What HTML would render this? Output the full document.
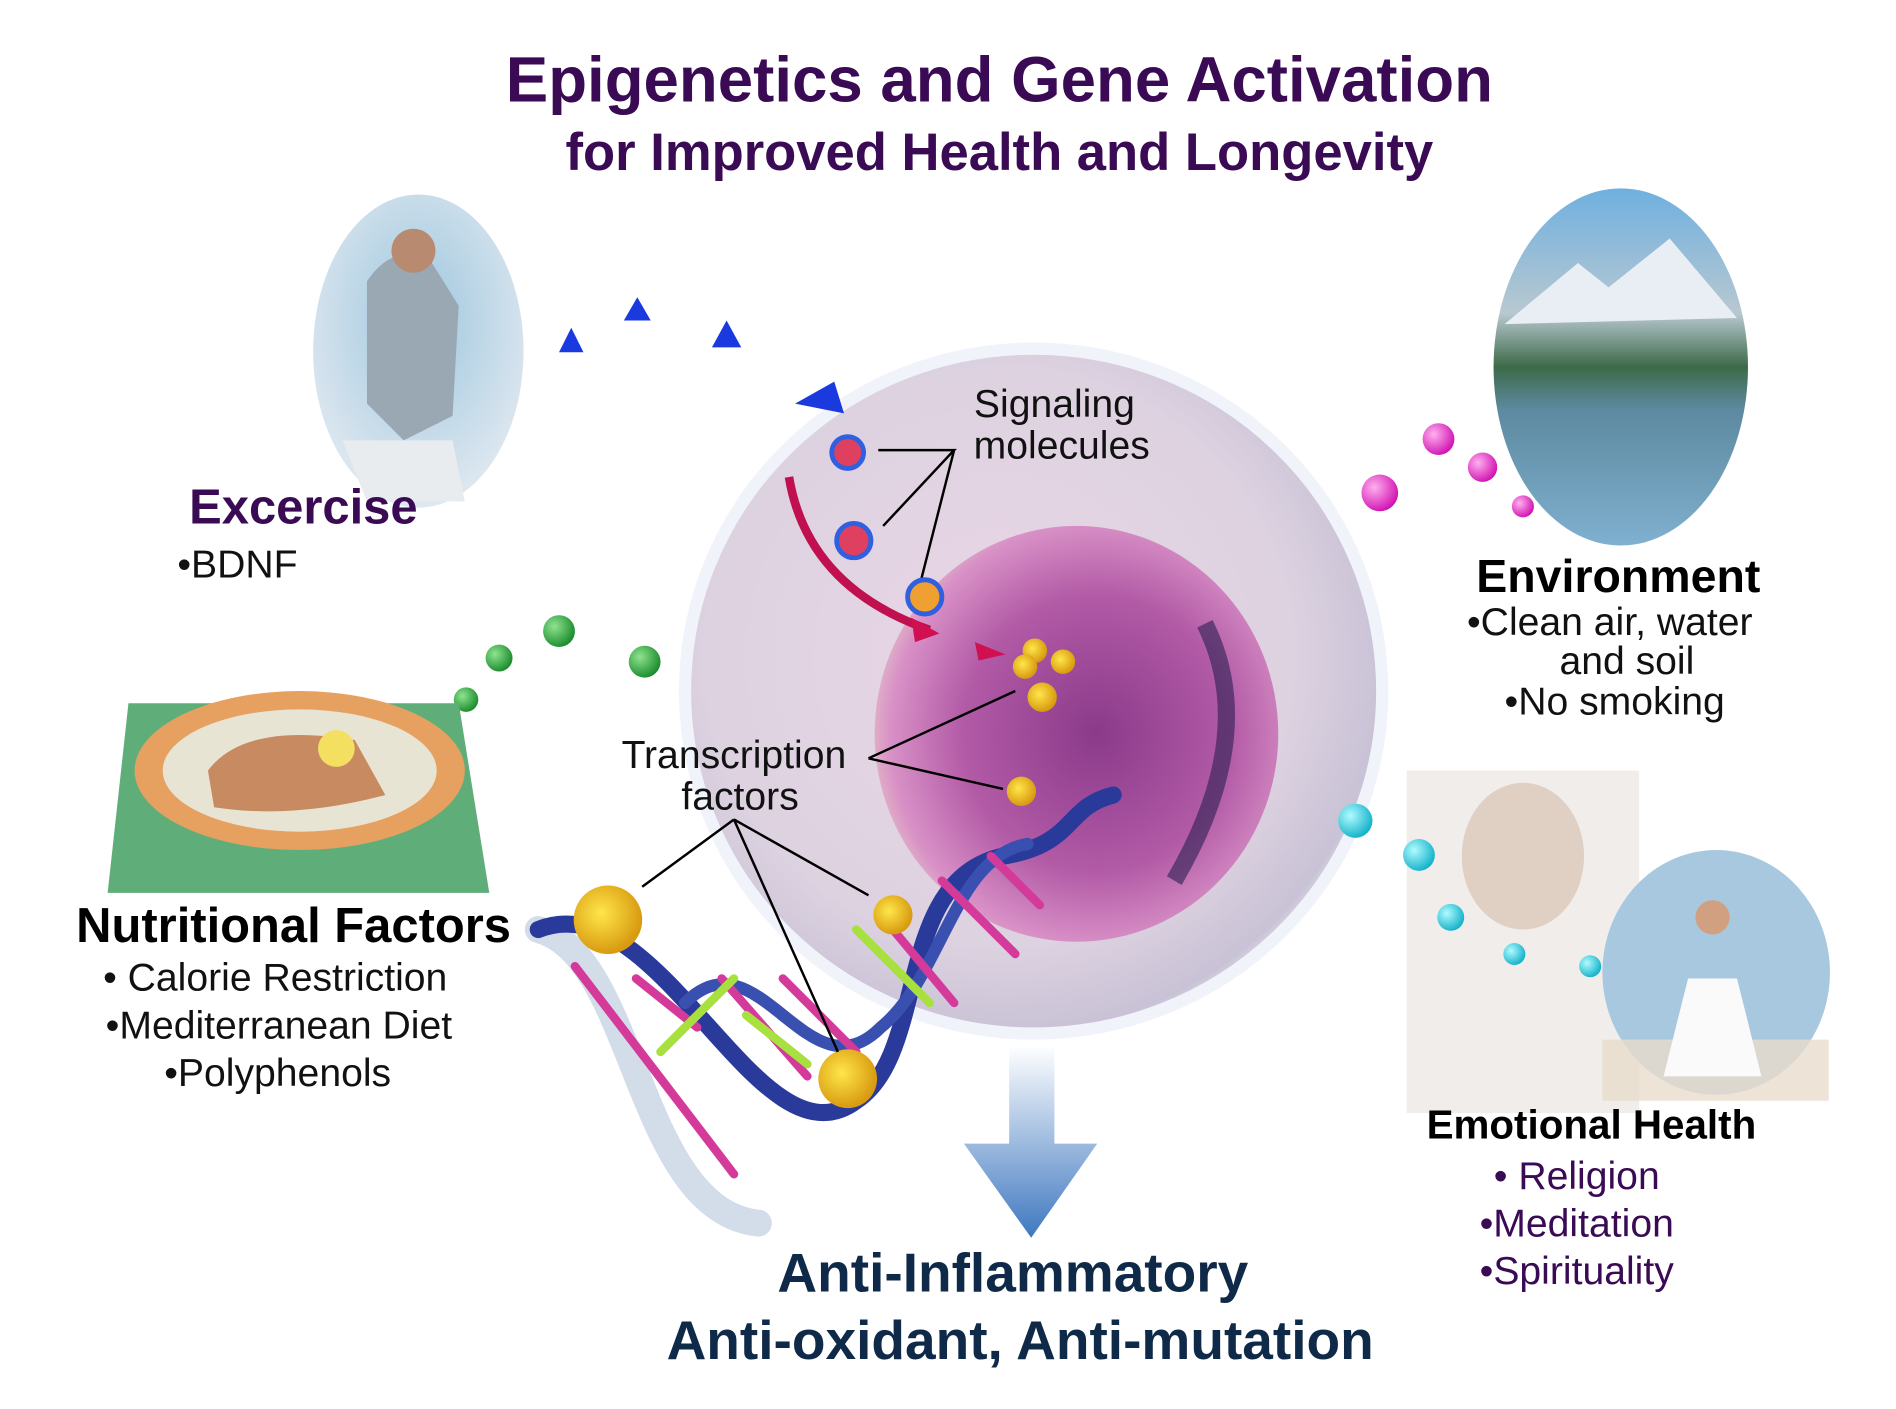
<!DOCTYPE html>
<html><head><meta charset="utf-8"><style>
html,body{margin:0;padding:0;background:#fff;}
svg{display:block;}
text{font-family:"Liberation Sans",sans-serif;}
</style></head><body>
<svg width="1896" height="1409" viewBox="0 0 1550 1152" preserveAspectRatio="none" xmlns="http://www.w3.org/2000/svg">
<defs>
<radialGradient id="cellG" cx="0.45" cy="0.45" r="0.6"><stop offset="0" stop-color="#e9d6e6"/><stop offset="0.7" stop-color="#ddd2e0"/><stop offset="0.92" stop-color="#c9c2d6"/><stop offset="1" stop-color="#eef2f8"/></radialGradient>
<radialGradient id="nucG" cx="0.55" cy="0.5" r="0.6"><stop offset="0" stop-color="#8a3a8a"/><stop offset="0.55" stop-color="#b25aa6"/><stop offset="0.85" stop-color="#d890c6"/><stop offset="1" stop-color="#e8d0c8"/></radialGradient>
<radialGradient id="skyG" cx="0.5" cy="0.4" r="0.6"><stop offset="0" stop-color="#9cc6de"/><stop offset="1" stop-color="#dfe8f0"/></radialGradient>
<radialGradient id="yel" cx="0.4" cy="0.4" r="0.6"><stop offset="0" stop-color="#ffe64a"/><stop offset="1" stop-color="#d89a10"/></radialGradient>
<radialGradient id="grn" cx="0.35" cy="0.35" r="0.7"><stop offset="0" stop-color="#8fe38f"/><stop offset="1" stop-color="#178a2a"/></radialGradient>
<radialGradient id="pnk" cx="0.35" cy="0.35" r="0.7"><stop offset="0" stop-color="#ffb0f0"/><stop offset="1" stop-color="#d010b0"/></radialGradient>
<radialGradient id="cyn" cx="0.35" cy="0.35" r="0.7"><stop offset="0" stop-color="#b0fbff"/><stop offset="1" stop-color="#10b0c8"/></radialGradient>
<linearGradient id="arrG" x1="0" y1="0" x2="0" y2="1"><stop offset="0" stop-color="#ffffff"/><stop offset="1" stop-color="#3f78c0"/></linearGradient>
<linearGradient id="mtn" x1="0" y1="0" x2="0" y2="1"><stop offset="0" stop-color="#6fb0e0"/><stop offset="0.35" stop-color="#b8c8d0"/><stop offset="0.5" stop-color="#3d6a48"/><stop offset="0.62" stop-color="#5d8aa0"/><stop offset="1" stop-color="#80b0d0"/></linearGradient>
</defs>

<text x="817" y="83" text-anchor="middle" font-size="52" font-weight="bold" fill="#3a0a55">Epigenetics and Gene Activation</text>
<text x="817" y="139" text-anchor="middle" font-size="43" font-weight="bold" fill="#3a0a55">for Improved Health and Longevity</text>

<g>
<ellipse cx="845" cy="565" rx="285" ry="280" fill="url(#cellG)" stroke="#f0f4fa" stroke-width="10"/>
<ellipse cx="880" cy="600" rx="165" ry="170" fill="url(#nucG)"/>
<path d="M985 510 Q1030 600 960 720" stroke="#2a2050" stroke-width="14" fill="none" opacity="0.6"/>
</g>

<g fill="none" stroke-linecap="round">
<path d="M440 760 C520 780 520 990 620 1000" stroke="#c8d4e4" stroke-width="22" opacity="0.8"/>
<path d="M440 760 C540 720 620 960 700 900 C760 860 730 720 820 700 C880 690 870 660 910 650" stroke="#2a3a9a" stroke-width="14"/>
<path d="M560 820 C620 760 660 900 720 840 C770 800 780 700 840 690" stroke="#3a50b0" stroke-width="10"/>
<path d="M470 790 L600 960 M520 800 L570 840 M590 800 L660 880 M640 800 L700 860 M730 760 L780 820 M770 720 L830 780 M810 700 L850 740" stroke="#d43a9a" stroke-width="7"/>
<path d="M540 860 L600 800 M610 830 L660 870 M700 760 L760 820" stroke="#a8e040" stroke-width="7"/>
</g>

<g>
<circle cx="497" cy="752" r="28" fill="url(#yel)"/>
<circle cx="730" cy="748" r="16" fill="url(#yel)"/>
<circle cx="693" cy="882" r="24" fill="url(#yel)"/>
<circle cx="846" cy="532" r="10" fill="url(#yel)"/>
<circle cx="838" cy="545" r="10" fill="url(#yel)"/>
<circle cx="869" cy="541" r="10" fill="url(#yel)"/>
<circle cx="852" cy="570" r="12" fill="url(#yel)"/>
<circle cx="835" cy="647" r="12" fill="url(#yel)"/>
</g>
<g stroke="#000" stroke-width="2" fill="none">
<path d="M710 620 L830 565 M710 620 L820 645"/>
<path d="M600 670 L525 725 M600 670 L710 732 M600 670 L685 860"/>
<path d="M718 368 L780 368 L722 430 M780 368 L752 478"/>
</g>
<text x="600" y="628" text-anchor="middle" font-size="32" fill="#111">Transcription</text>
<text x="605" y="662" text-anchor="middle" font-size="32" fill="#111">factors</text>
<text x="862" y="341" text-anchor="middle" font-size="32" fill="#111">Signaling</text>
<text x="868" y="375" text-anchor="middle" font-size="32" fill="#111">molecules</text>

<g>
<circle cx="693" cy="370" r="13" fill="#e04060" stroke="#3060e0" stroke-width="4"/>
<circle cx="698" cy="442" r="14" fill="#e04060" stroke="#3060e0" stroke-width="4"/>
<circle cx="756" cy="488" r="14" fill="#f0a030" stroke="#3060e0" stroke-width="4"/>
<path d="M645 390 Q660 480 760 515" stroke="#c01050" stroke-width="7" fill="none"/>
<polygon points="745,505 768,518 748,525" fill="#d01050"/>
<polygon points="797,525 822,535 800,540" fill="#d01050"/>
<polygon points="650,330 682,312 690,338" fill="#1a3ae0"/>
</g>

<g fill="#1a3ae0">
<polygon points="467,268 477,288 457,288"/><polygon points="521,243 532,262 510,262"/><polygon points="594,262 606,284 582,284"/>
</g>
<g>
<circle cx="381" cy="572" r="10" fill="url(#grn)"/><circle cx="408" cy="538" r="11" fill="url(#grn)"/><circle cx="457" cy="516" r="13" fill="url(#grn)"/><circle cx="527" cy="541" r="13" fill="url(#grn)"/>
</g>
<g>
<circle cx="1176" cy="359" r="13" fill="url(#pnk)"/><circle cx="1212" cy="382" r="12" fill="url(#pnk)"/><circle cx="1245" cy="414" r="9" fill="url(#pnk)"/><circle cx="1128" cy="403" r="15" fill="url(#pnk)"/>
</g>

<polygon points="825,855 862,855 862,935 897,935 843,1012 788,935 825,935" fill="url(#arrG)"/>

<g>
<ellipse cx="342" cy="287" rx="86" ry="128" fill="url(#skyG)"/>
<path d="M300 230 Q320 200 350 210 L375 250 L370 340 L330 360 L300 330 Z" fill="#9aa8b4"/>
<circle cx="338" cy="205" r="18" fill="#b88a70"/>
<path d="M280 360 L370 360 L380 410 L300 410 Z" fill="#e8ecef"/>
</g>
<g>
<polygon points="105,575 375,575 400,730 88,730" fill="#5fae7a"/>
<ellipse cx="245" cy="630" rx="135" ry="65" fill="#e6a060"/>
<ellipse cx="245" cy="630" rx="112" ry="50" fill="#e8e4d4"/>
<path d="M170 630 Q200 590 290 605 L315 650 Q240 670 175 660 Z" fill="#c88a60"/>
<circle cx="275" cy="612" r="15" fill="#f4e060"/>
</g>
<g>
<ellipse cx="1325" cy="300" rx="104" ry="146" fill="url(#mtn)"/>
<polygon points="1230,265 1290,215 1315,235 1365,195 1420,260" fill="#e8eef4"/>
</g>
<g>
<rect x="1150" y="630" width="190" height="280" fill="#ece8e6" opacity="0.8"/>
<ellipse cx="1245" cy="700" rx="50" ry="60" fill="#e0d0c4"/>
<ellipse cx="1403" cy="795" rx="93" ry="100" fill="#a8c8e0"/>
<path d="M1310 850 L1495 850 L1495 900 L1310 900 Z" fill="#e8dccc" opacity="0.8"/>
<path d="M1380 800 L1420 800 L1440 880 L1360 880 Z" fill="#fafafa"/>
<circle cx="1400" cy="750" r="14" fill="#d0a080"/>
</g>
<g>
<circle cx="1108" cy="671" r="14" fill="url(#cyn)"/><circle cx="1160" cy="699" r="13" fill="url(#cyn)"/><circle cx="1186" cy="750" r="11" fill="url(#cyn)"/><circle cx="1238" cy="780" r="9" fill="url(#cyn)"/><circle cx="1300" cy="790" r="9" fill="url(#cyn)"/>
</g>

<text x="248" y="428" text-anchor="middle" font-size="40" font-weight="bold" fill="#3a0a55">Excercise</text>
<text x="145" y="472" font-size="32" fill="#111">•BDNF</text>

<text x="240" y="770" text-anchor="middle" font-size="40" font-weight="bold" fill="#000">Nutritional Factors</text>
<text x="225" y="810" text-anchor="middle" font-size="32" fill="#111">• Calorie Restriction</text>
<text x="228" y="849" text-anchor="middle" font-size="32" fill="#111">•Mediterranean Diet</text>
<text x="227" y="888" text-anchor="middle" font-size="32" fill="#111">•Polyphenols</text>

<text x="1323" y="484" text-anchor="middle" font-size="38" font-weight="bold" fill="#000">Environment</text>
<text x="1316" y="519" text-anchor="middle" font-size="32" fill="#111">•Clean air, water</text>
<text x="1330" y="551" text-anchor="middle" font-size="32" fill="#111">and soil</text>
<text x="1320" y="584" text-anchor="middle" font-size="32" fill="#111">•No smoking</text>

<text x="1301" y="931" text-anchor="middle" font-size="33" font-weight="bold" fill="#000">Emotional Health</text>
<text x="1289" y="972" text-anchor="middle" font-size="32" fill="#3a0a55">• Religion</text>
<text x="1289" y="1011" text-anchor="middle" font-size="32" fill="#3a0a55">•Meditation</text>
<text x="1289" y="1050" text-anchor="middle" font-size="32" fill="#3a0a55">•Spirituality</text>

<text x="828" y="1056" text-anchor="middle" font-size="45" font-weight="bold" fill="#0f2a48">Anti-Inflammatory</text>
<text x="834" y="1111" text-anchor="middle" font-size="45" font-weight="bold" fill="#0f2a48">Anti-oxidant, Anti-mutation</text>
</svg>
</body></html>
